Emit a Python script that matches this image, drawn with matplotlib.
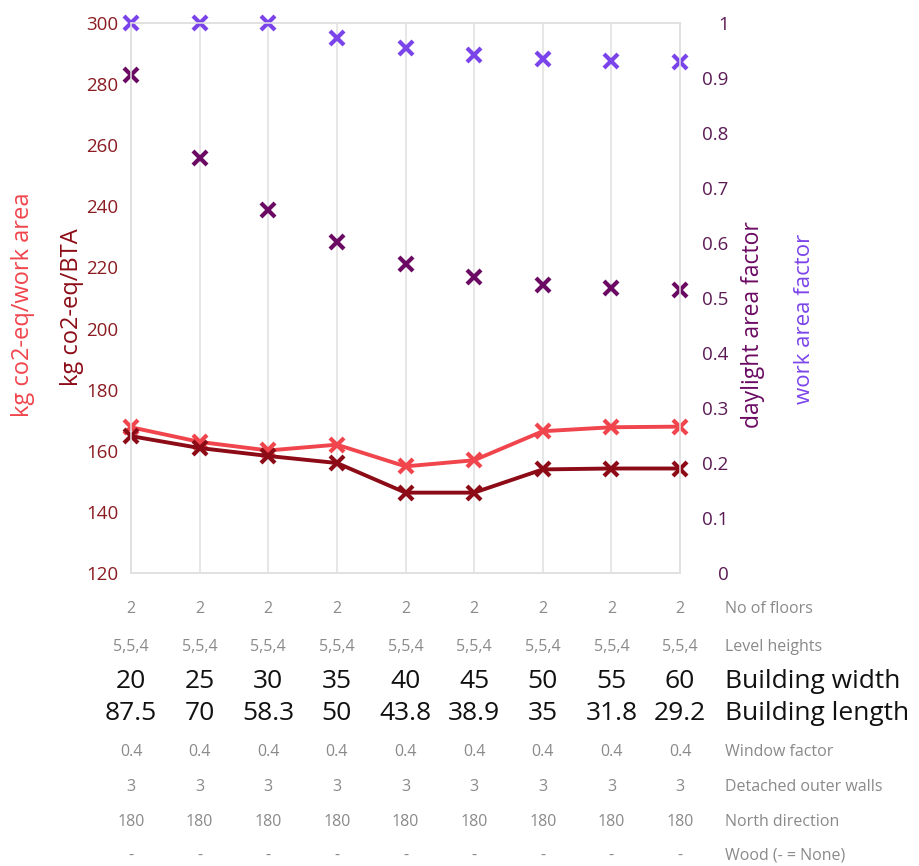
import numpy as np
import matplotlib
matplotlib.use('Agg')
import matplotlib.pyplot as plt
from matplotlib.transforms import blended_transform_factory

plt.rcParams['font.family'] = ['Open Sans', 'DejaVu Sans']

# building width variants (x categories)
widths = ['20', '25', '30', '35', '40', '45', '50', '55', '60']
x = np.arange(len(widths))

# left axis: kg co2-eq
work_area_co2 = [167.7, 162.9, 160.1, 162.0, 154.9, 156.9, 166.4, 167.7, 167.9]
bta_co2 = [164.8, 160.9, 158.3, 156.0, 146.3, 146.3, 153.9, 154.2, 154.2]

# right axis: factors
work_area_factor = [1.0, 1.0, 1.0, 0.973, 0.954, 0.942, 0.934, 0.931, 0.930]
daylight_factor = [0.906, 0.754, 0.660, 0.601, 0.562, 0.538, 0.524, 0.518, 0.515]

# parameter table below the chart
table_rows = [
    ('No of floors', ['2'] * 9, 'small'),
    ('Level heights', ['5,5,4'] * 9, 'small'),
    ('Building width', widths, 'big'),
    ('Building length', ['87.5', '70', '58.3', '50', '43.8', '38.9', '35', '31.8', '29.2'], 'big'),
    ('Window factor', ['0.4'] * 9, 'small'),
    ('Detached outer walls', ['3'] * 9, 'small'),
    ('North direction', ['180'] * 9, 'small'),
    ('Wood (- = None)', ['-'] * 9, 'small'),
]
row_y_px = [609, 647, 681, 714, 752, 787, 822, 856]

c_light = '#f0454c'
c_dark = '#8c0b16'
c_purple = '#7b44ea'
c_dpurple = '#6b0a62'
grid_c = '#e0e0e0'

W, H = 920, 866
fig = plt.figure(figsize=(W / 100, H / 100), dpi=100)
ax = fig.add_axes([131 / W, 1 - 573 / H, (680 - 131) / W, (573 - 23) / H])
ax2 = ax.twinx()

ax.set_xlim(0, 8)
ax.set_ylim(120, 300)
ax.set_yticks(np.arange(120, 301, 20))
ax2.set_ylim(0, 1)
ax2.set_yticks(np.arange(0, 1.01, 0.1))
ax2.set_yticklabels(['0', '0.1', '0.2', '0.3', '0.4', '0.5', '0.6', '0.7', '0.8', '0.9', '1'])

ax.set_xticks(x)
ax.set_xticklabels([])
ax.tick_params(axis='x', length=0)
ax.grid(True, axis='x', color=grid_c, lw=1.1)
for a in (ax, ax2):
    for s in a.spines.values():
        s.set_color(grid_c)
        s.set_linewidth(1.1)

ax.tick_params(axis='y', length=0, pad=9, labelsize=13.5, labelcolor='#8b1c22')
ax2.tick_params(axis='y', length=0, pad=35, labelsize=13.5, labelcolor='#5c1a55')
for lab in ax2.get_yticklabels():
    lab.set_horizontalalignment('right')

mk = dict(marker='x', markersize=10, markeredgewidth=3, clip_on=False)
ax.plot(x, work_area_co2, color=c_light, lw=2.8, **mk, zorder=4)
ax.plot(x, bta_co2, color=c_dark, lw=2.8, **mk, zorder=4)
ax2.plot(x, work_area_factor, color=c_purple, ls='none', **mk)
ax2.plot(x, daylight_factor, color=c_dpurple, ls='none', **mk)

# axis titles
fig.text(23 / W, 1 - 305 / H, 'kg co2-eq/work area', rotation=90, color=c_light,
         fontsize=17, ha='center', va='center')
fig.text(72 / W, 1 - 307 / H, 'kg co2-eq/BTA', rotation=90, color=c_dark,
         fontsize=17, ha='center', va='center')
fig.text(753 / W, 1 - 325 / H, 'daylight area factor', rotation=90, color=c_dpurple,
         fontsize=16.5, ha='center', va='center')
fig.text(805 / W, 1 - 319 / H, 'work area factor', rotation=90, color=c_purple,
         fontsize=16, ha='center', va='center')

# table
tr = blended_transform_factory(ax.transData, fig.transFigure)
for (name, vals, kind), ypx in zip(table_rows, row_y_px):
    yf = 1 - ypx / H
    if kind == 'big':
        fs, col = 19, '#111111'
    else:
        fs, col = 11.5, '#8a8a8a'
    for xi, v in zip(x, vals):
        fig.text(xi, yf, v, transform=tr, ha='center', va='center',
                 fontsize=fs, color=col)
    fig.text(725 / W, yf, name, ha='left', va='center', fontsize=fs, color=col)

fig.savefig('out.png', dpi=100)
